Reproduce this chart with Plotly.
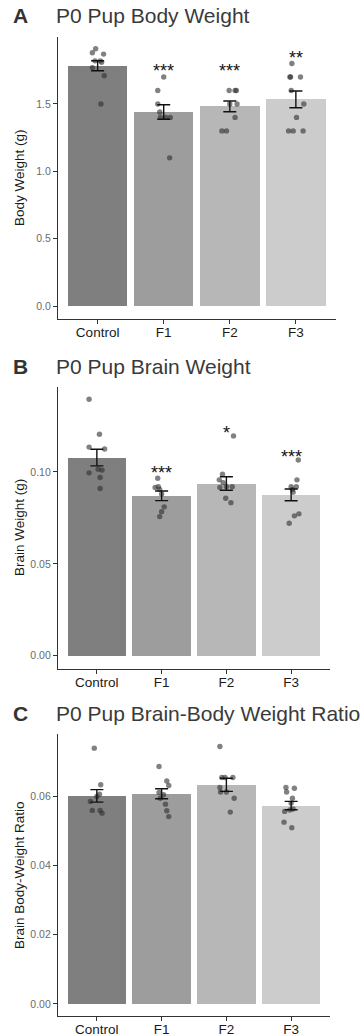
import plotly.graph_objects as go

# ---------------- data ----------------
categories = ["Control", "F1", "F2", "F3"]
bar_colors = ["#7F7F7F", "#9D9D9D", "#B7B7B7", "#CCCCCC"]

# Panel A: body weight (g)
A_means = [1.784, 1.440, 1.482, 1.534]
A_se = [0.037, 0.054, 0.040, 0.062]
A_ctrl = [1.91, 1.88, 1.87, 1.82, 1.82, 1.81, 1.77, 1.71, 1.50]
A_f1 = [1.70, 1.60, 1.50, 1.44, 1.40, 1.40, 1.40, 1.10]
A_f2 = [1.60, 1.60, 1.60, 1.50, 1.50, 1.40, 1.30, 1.30]
A_f3 = [1.80, 1.70, 1.70, 1.70, 1.60, 1.50, 1.40, 1.30, 1.30, 1.30]
A_jit = [[-0.03, -0.08, 0.09, -0.04, 0.04, 0.06, -0.08, 0.10, 0.05],
         [0.00, -0.09, -0.09, -0.06, -0.05, 0.03, 0.10, 0.09],
         [-0.01, 0.08, 0.10, 0.00, 0.11, 0.08, -0.12, -0.05],
         [-0.06, -0.09, -0.08, 0.07, -0.07, 0.12, 0.01, -0.11, -0.04, 0.11]]
A_sig = ["", "***", "***", "**"]
A_sig_y = [None, 1.782, 1.782, 1.88]

# Panel B: brain weight (g)
B_means = [0.1078, 0.0870, 0.0937, 0.0875]
B_se = [0.0045, 0.0026, 0.0037, 0.0032]
B_ctrl = [0.1395, 0.1205, 0.1135, 0.1125, 0.1015, 0.1010, 0.0995, 0.0970, 0.0910]
B_f1 = [0.0966, 0.0920, 0.0915, 0.0905, 0.0880, 0.0810, 0.0784, 0.0757]
B_f2 = [0.1196, 0.0987, 0.0957, 0.0942, 0.0920, 0.0920, 0.0915, 0.0857, 0.0833]
B_f3 = [0.1065, 0.0957, 0.0920, 0.0920, 0.0905, 0.0890, 0.0772, 0.0761, 0.0721]
B_jit = [[-0.12, 0.04, -0.12, 0.12, 0.02, 0.08, -0.12, 0.05, 0.05],
         [-0.06, -0.05, -0.10, -0.03, 0.00, 0.04, 0.00, -0.03],
         [0.11, -0.06, -0.11, -0.05, 0.00, 0.09, -0.10, -0.01, 0.07],
         [0.11, 0.09, 0.00, 0.08, 0.02, 0.03, 0.12, 0.05, -0.03]]
B_sig = ["", "***", "*", "***"]
B_sig_y = [None, 0.1024, 0.124, 0.111]

# Panel C: brain-body weight ratio
C_means = [0.0602, 0.0608, 0.0634, 0.0574]
C_se = [0.0018, 0.00145, 0.0019, 0.0012]
C_ctrl = [0.0740, 0.0634, 0.0607, 0.0600, 0.0586, 0.0560, 0.0560, 0.0552]
C_f1 = [0.0687, 0.0645, 0.0632, 0.0612, 0.0605, 0.0595, 0.0578, 0.0559, 0.0542]
C_f2 = [0.0745, 0.0655, 0.0655, 0.0655, 0.0626, 0.0613, 0.0613, 0.0595, 0.0555]
C_f3 = [0.0626, 0.0624, 0.0613, 0.0595, 0.0581, 0.0564, 0.0561, 0.0557, 0.0526, 0.0510]
C_jit = [[-0.04, 0.06, 0.04, 0.00, -0.10, -0.07, 0.05, 0.08],
         [-0.04, 0.08, 0.11, -0.04, 0.03, -0.02, 0.06, 0.08, 0.11],
         [-0.10, -0.07, -0.02, 0.10, -0.10, -0.09, 0.00, 0.12, 0.06],
         [-0.08, 0.05, -0.07, 0.02, 0.00, 0.03, -0.02, -0.10, -0.11, 0.01]]

W, H = 361, 1036
FONT = "Liberation Sans, Arial, sans-serif"

panels = [
    dict(letter="A", title="P0 Pup Body Weight", ylabel="Body Weight (g)",
         means=A_means, se=A_se, pts=[A_ctrl, A_f1, A_f2, A_f3], jit=A_jit,
         sig=A_sig, sig_y=A_sig_y, top=37, bottom=319, xr=335.5,
         yrange=[-0.0965, 1.997], tickvals=[0, 0.5, 1.0, 1.5], fmt=".1f"),
    dict(letter="B", title="P0 Pup Brain Weight", ylabel="Brain Weight (g)",
         means=B_means, se=B_se, pts=[B_ctrl, B_f1, B_f2, B_f3], jit=B_jit,
         sig=B_sig, sig_y=B_sig_y, top=387, bottom=669, xr=330,
         yrange=[-0.0072, 0.1462], tickvals=[0, 0.05, 0.10], fmt=".2f"),
    dict(letter="C", title="P0 Pup Brain-Body Weight Ratio", ylabel="Brain Body-Weight Ratio",
         means=C_means, se=C_se, pts=[C_ctrl, C_f1, C_f2, C_f3], jit=C_jit,
         sig=None, sig_y=None, top=734, bottom=1016, xr=330,
         yrange=[-0.0035, 0.0781], tickvals=[0, 0.02, 0.04, 0.06], fmt=".2f"),
]

fig = go.Figure()
annotations = []
layout_axes = {}
xl = 58


def px(x):
    return x / W


def py(y):
    return 1 - y / H


for i, p in enumerate(panels):
    n = "" if i == 0 else str(i + 1)
    xa, ya = "x" + n, "y" + n
    idx = list(range(len(categories)))
    fig.add_trace(go.Bar(x=idx, y=p["means"], width=0.9, marker=dict(color=bar_colors, line=dict(width=0)),
                         xaxis=xa, yaxis=ya, showlegend=False, hoverinfo="skip"))
    for g, vals in enumerate(p["pts"]):
        fig.add_trace(go.Scatter(x=[g + j for j in p["jit"][g]], y=vals, mode="markers",
                                 marker=dict(color="rgba(45,45,45,0.6)", size=5.4, line=dict(width=0)),
                                 xaxis=xa, yaxis=ya, showlegend=False, hoverinfo="skip"))
    fig.add_trace(go.Scatter(x=idx, y=p["means"], mode="markers", marker=dict(size=0.1, color="rgba(0,0,0,0)"),
                             error_y=dict(type="data", array=p["se"], color="#111111", thickness=1.4, width=6.5),
                             xaxis=xa, yaxis=ya, showlegend=False, hoverinfo="skip"))
    xdom = [px(xl), px(p["xr"])]
    ydom = [py(p["bottom"]), py(p["top"])]
    layout_axes["xaxis" + n] = dict(domain=xdom, range=[-0.6, 3.6], anchor=ya, tickmode="array",
                                     tickvals=idx, ticktext=categories, showline=True, linecolor="#333333",
                                     linewidth=1.2, ticks="outside", ticklen=4, tickcolor="#333333",
                                     ticklabelstandoff=-3,
                                     tickfont=dict(family=FONT, size=13.5, color="#1a1a1a"),
                                     showgrid=False, zeroline=False, fixedrange=True)
    layout_axes["yaxis" + n] = dict(domain=ydom, range=p["yrange"], anchor=xa, tickmode="array",
                                     tickvals=p["tickvals"], tickformat=p["fmt"], showline=True,
                                     linecolor="#333333", linewidth=1.2, ticks="outside", ticklen=4,
                                     tickcolor="#333333", tickfont=dict(family=FONT, size=10.5, color="#6b6b6b"),
                                     showgrid=False, zeroline=False, fixedrange=True)
    # panel letter and title
    ty = p["top"] - 21
    annotations.append(dict(text="<b>" + p["letter"] + "</b>", x=px(20), y=py(ty), xref="paper", yref="paper",
                            xanchor="center", yanchor="middle", showarrow=False,
                            font=dict(family=FONT, size=21, color="#333333")))
    annotations.append(dict(text=p["title"], x=px(54), y=py(ty), xref="paper", yref="paper",
                            xanchor="left", yanchor="middle", showarrow=False,
                            font=dict(family=FONT, size=21, color="#3a3a3a")))
    annotations.append(dict(text=p["ylabel"], x=px(19), y=py((p["top"] + p["bottom"]) / 2),
                            xref="paper", yref="paper", xanchor="center", yanchor="middle",
                            textangle=-90, showarrow=False, font=dict(family=FONT, size=13.5, color="#1a1a1a")))
    if p["sig"]:
        for g, (s, sy) in enumerate(zip(p["sig"], p["sig_y"])):
            if s:
                annotations.append(dict(text=s, x=g, y=sy, xref=xa, yref=ya, xanchor="center",
                                        yanchor="middle", yshift=-5, showarrow=False,
                                        font=dict(family=FONT, size=18, color="#111111")))

fig.update_layout(width=W, height=H, margin=dict(l=0, r=0, t=0, b=0),
                  paper_bgcolor="white", plot_bgcolor="white", annotations=annotations,
                  bargap=0, **layout_axes)
# remove the page's default 8px body margin so the figure fills the window exactly
fig.write_html("out.html", config={"displayModeBar": False},
               post_script="document.body.style.margin='0px';")
